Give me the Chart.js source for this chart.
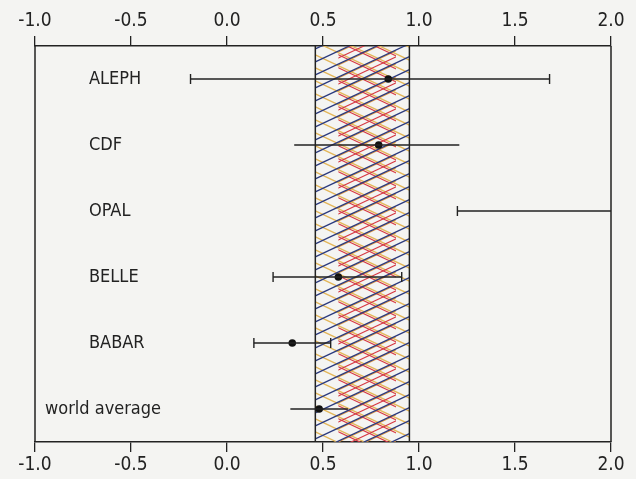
<!DOCTYPE html>
<html><head><meta charset="utf-8">
<script src="https://cdn.jsdelivr.net/npm/chart.js@4/dist/chart.umd.min.js"></script>
<style>
html,body{margin:0;padding:0;background:#f4f4f2;}
#wrap{width:636px;height:479px;position:relative;}
</style></head><body>
<div id="wrap"><canvas id="c" width="636" height="479"></canvas></div>
<script>
// ---- data ----
const experiments   = ['ALEPH', 'CDF', 'OPAL', 'BELLE', 'BABAR', 'world average'];
const centralValues = [0.84, 0.79, null, 0.58, 0.34, 0.48];
const lowerValues   = [-0.19, 0.35, 1.20, 0.24, 0.14, 0.33];
const upperValues   = [1.68, 1.21, 2.00, 0.91, 0.54, 0.63];
const hasLowerCap   = [true, false, true, true, true, false];
const hasUpperCap   = [true, false, false, true, true, false];
const bandRange      = [0.46, 0.95];
const innerBandRange = [0.58, 0.88];
const xTicks = [-1.0, -0.5, 0.0, 0.5, 1.0, 1.5, 2.0];

// ---- styles ----
const INK = '#222222';
const FONT = "'Liberation Sans Narrow','DejaVu Sans Condensed','Liberation Sans',sans-serif";

const datasets = experiments.map((name, i) => ({
  type: 'line',
  label: name,
  data: [{x: lowerValues[i], y: i}, {x: upperValues[i], y: i}],
  borderColor: INK,
  borderWidth: 1.4,
  pointStyle: 'line',
  rotation: 90,
  pointRadius: [hasLowerCap[i] ? 5 : 0, hasUpperCap[i] ? 5 : 0],
  pointBorderColor: INK,
  pointBorderWidth: 1.4,
  pointHoverRadius: 0,
  clip: 0
}));
datasets.push({
  type: 'scatter',
  label: 'central',
  data: experiments.map((n, i) => centralValues[i] === null ? null : {x: centralValues[i], y: i}).filter(d => d),
  pointRadius: 3.8,
  pointBackgroundColor: '#111',
  pointBorderWidth: 0
});

function xAxis(pos, pad) {
  return {
    type: 'linear', position: pos, min: -1, max: 2,
    afterBuildTicks: s => { s.ticks = xTicks.map(v => ({value: v})); },
    ticks: {
      callback: v => v.toFixed(1), color: INK, padding: pad,
      font: {family: FONT, size: 19, lineHeight: 1}, maxRotation: 0, autoSkip: false
    },
    grid: {drawOnChartArea: false, drawTicks: true, tickLength: 10, color: INK, lineWidth: 1.3},
    border: {display: true, color: INK, width: 1.5}
  };
}

const bandPlugin = {
  id: 'band',
  beforeDatasetsDraw(chart) {
    const {ctx, chartArea: a, scales: {x}} = chart;
    const x0 = x.getPixelForValue(bandRange[0]);
    const x1 = x.getPixelForValue(bandRange[1]);
    const w = x1 - x0, slope = 0.47, step = 13;
    ctx.save();
    ctx.beginPath(); ctx.rect(x0, a.top, w, a.bottom - a.top); ctx.clip();
    const drawSet = (xa, xb, dir, color, offset, lw, st) => {
      ctx.strokeStyle = color; ctx.lineWidth = lw;
      const ww = xb - xa;
      for (let c = a.top - ww - 20 + offset; c < a.bottom + ww + 20; c += (st || step)) {
        ctx.beginPath();
        ctx.moveTo(xa, c);
        ctx.lineTo(xb, c + dir * slope * ww);
        ctx.stroke();
      }
    };
    drawSet(x0, x1, 1, '#e3b557', 6, 1.3);   // golden "\"
    // inner red cross hatch
    const i0 = x.getPixelForValue(innerBandRange[0]);
    const i1 = x.getPixelForValue(innerBandRange[1]);
    ctx.save();
    ctx.beginPath(); ctx.rect(i0, a.top, i1 - i0, a.bottom - a.top); ctx.clip();
    drawSet(i0 - 20, i1 + 20, -1, '#e39a3c', 3, 1.1);
    drawSet(i0 - 20, i1 + 20, 1, '#d63a44', 0, 1.2);
    drawSet(i0 - 20, i1 + 20, -1, '#d63a44', 9, 1.1, 26);
    ctx.restore();
    drawSet(x0, x1, -1, '#2b3a7e', 0, 1.3);  // navy "/"
    ctx.restore();
    ctx.save();
    ctx.strokeStyle = INK; ctx.lineWidth = 1.5;
    ctx.beginPath();
    ctx.moveTo(x0, a.top); ctx.lineTo(x0, a.bottom);
    ctx.moveTo(x1, a.top); ctx.lineTo(x1, a.bottom);
    ctx.stroke();
    ctx.restore();
  }
};

const framePlugin = {
  id: 'frame',
  afterDraw(chart) {
    const {ctx, chartArea: a, scales: {y}} = chart;
    ctx.save();
    ctx.strokeStyle = INK; ctx.lineWidth = 1.5;
    ctx.beginPath();
    ctx.moveTo(a.left, a.top); ctx.lineTo(a.left, a.bottom);
    ctx.moveTo(a.right, a.top); ctx.lineTo(a.right, a.bottom);
    ctx.stroke();
    ctx.fillStyle = INK;
    ctx.font = '18px ' + FONT;
    ctx.textBaseline = 'middle';
    ctx.textAlign = 'left';
    experiments.forEach((name, i) => {
      const px = i === experiments.length - 1 ? a.left + 10 : a.left + 54;
      ctx.fillText(name, px, y.getPixelForValue(i));
    });
    ctx.restore();
  }
};

new Chart(document.getElementById('c'), {
  data: {datasets},
  options: {
    responsive: false,
    animation: false,
    layout: {padding: {left: 35, right: 25, top: 7, bottom: 0}},
    plugins: {legend: {display: false}, tooltip: {enabled: false}},
    scales: {
      x: xAxis('bottom', 4),
      x2: xAxis('top', 5),
      y: {type: 'linear', display: false, reverse: true, min: -0.5, max: 5.5}
    }
  },
  plugins: [bandPlugin, framePlugin]
});
</script>
</body></html>
